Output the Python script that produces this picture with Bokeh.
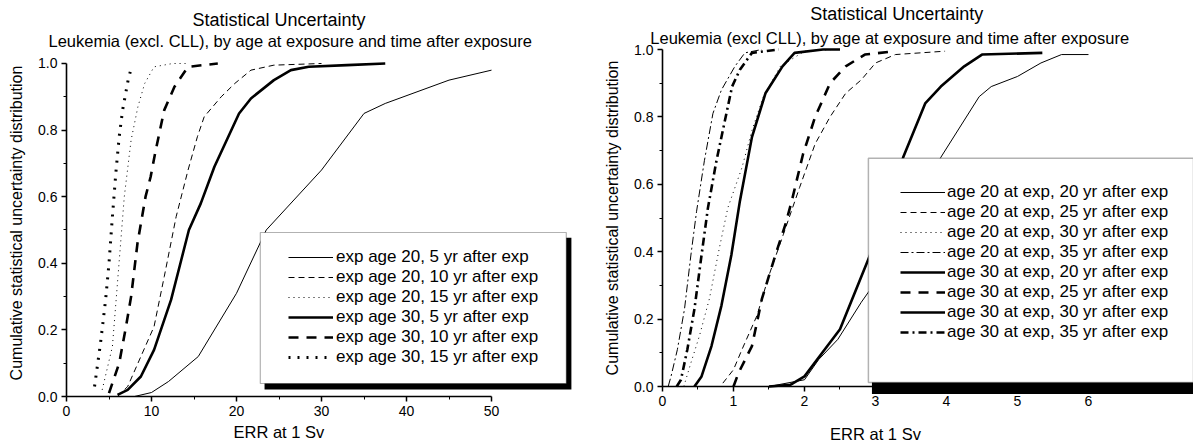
from bokeh.plotting import figure
from bokeh.models import (Legend, LegendItem, BoxAnnotation, Title, Label, FixedTicker,
                          NumeralTickFormatter, Range1d)
from bokeh.layouts import row, column
from bokeh.embed import file_html
from bokeh.resources import INLINE

FONT = "Liberation Sans"

# ---------------- data: left panel (ERR at 1 Sv, cumulative distribution) ----------------
left_labels = ["exp age 20, 5 yr after exp", "exp age 20, 10 yr after exp",
               "exp age 20, 15 yr after exp", "exp age 30, 5 yr after exp",
               "exp age 30, 10 yr after exp", "exp age 30, 15 yr after exp"]
l1_x = [8, 10, 12, 15.5, 20, 23.5, 30, 35, 37.5, 45, 50]
l1_y = [0.0, 0.012, 0.045, 0.12, 0.31, 0.5, 0.68, 0.85, 0.88, 0.95, 0.98]
l2_x = [6.0, 7.2, 8.75, 10.3, 11.5, 12.9, 14.3, 15.4, 16.2, 18.2, 19.8, 21.7, 24.4, 30]
l2_y = [0.0, 0.03, 0.12, 0.21, 0.36, 0.54, 0.68, 0.78, 0.84, 0.9, 0.94, 0.98, 0.995, 1.0]
l3_x = [4.2, 5.4, 5.9, 6.8, 7.6, 8.4, 9.2, 10.3, 12.5, 14]
l3_y = [0.02, 0.15, 0.31, 0.6, 0.77, 0.87, 0.94, 0.99, 1.0, 1.0]
l4_x = [6.0, 7.2, 8.75, 10.3, 12.3, 13.5, 14.4, 15.8, 17.4, 20.3, 21.7, 24.4, 26.4, 28.5, 33, 37.5]
l4_y = [0.005, 0.02, 0.06, 0.14, 0.29, 0.41, 0.5, 0.58, 0.69, 0.85, 0.895, 0.95, 0.98, 0.99, 0.995, 1.0]
l5_x = [5.0, 6.2, 7.0, 7.6, 8.35, 9.3, 9.9, 10.5, 11.5, 12.7, 14.3, 17.8]
l5_y = [0.01, 0.1, 0.21, 0.3, 0.46, 0.6, 0.66, 0.74, 0.86, 0.93, 0.99, 1.0]
l6_x = [3.3, 4.0, 4.6, 5.0, 5.4, 5.8, 6.2, 6.6, 7.25, 7.65]
l6_y = [0.03, 0.16, 0.29, 0.4, 0.54, 0.67, 0.78, 0.86, 0.95, 0.99]

# ---------------- data: right panel ----------------
right_labels = ["age 20 at exp, 20 yr after exp", "age 20 at exp, 25 yr after exp",
                "age 20 at exp, 30 yr after exp", "age 20 at exp, 35 yr after exp",
                "age 30 at exp, 20 yr after exp", "age 30 at exp, 25 yr after exp",
                "age 30 at exp, 30 yr after exp", "age 30 at exp, 35 yr after exp"]
r1_x = [1.5, 2.0, 2.2, 2.47, 2.8, 3.0, 3.92, 4.46, 4.63, 5.0, 5.33, 5.62, 6.0]
r1_y = [0.0, 0.02, 0.08, 0.14, 0.25, 0.31, 0.68, 0.86, 0.89, 0.92, 0.96, 0.985, 0.985]
r2_x = [0.85, 1.0, 1.12, 1.33, 1.5, 1.7, 1.93, 2.15, 2.36, 2.58, 2.8, 3.0, 3.28, 3.98]
r2_y = [0.01, 0.05, 0.11, 0.21, 0.33, 0.45, 0.59, 0.72, 0.8, 0.87, 0.91, 0.96, 0.985, 0.995]
r3_x = [0.3, 0.4, 0.52, 0.66, 0.8, 0.92, 1.12, 1.26, 1.42, 1.66, 2.0, 2.4]
r3_y = [0.0, 0.07, 0.15, 0.26, 0.41, 0.53, 0.65, 0.76, 0.86, 0.95, 0.995, 1.0]
r4_x = [0.08, 0.12, 0.21, 0.31, 0.4, 0.48, 0.59, 0.71, 0.83, 1.02, 1.16, 1.4]
r4_y = [0.0, 0.03, 0.11, 0.23, 0.39, 0.52, 0.67, 0.81, 0.88, 0.95, 0.99, 1.0]
r5_x = [1.5, 1.8, 2.0, 2.25, 2.5, 3.0, 3.39, 3.7, 3.92, 4.25, 4.5, 5.35]
r5_y = [0.0, 0.005, 0.03, 0.1, 0.17, 0.43, 0.68, 0.84, 0.89, 0.95, 0.985, 0.99]
r6_x = [1.0, 1.07, 1.26, 1.4, 1.59, 1.73, 1.82, 1.98, 2.15, 2.36, 2.58, 2.85, 3.28]
r6_y = [0.0, 0.04, 0.12, 0.26, 0.39, 0.48, 0.55, 0.69, 0.8, 0.9, 0.95, 0.985, 0.995]
r7_x = [0.45, 0.55, 0.69, 0.83, 0.97, 1.09, 1.26, 1.45, 1.69, 1.86, 2.26, 2.5]
r7_y = [0.0, 0.03, 0.12, 0.24, 0.39, 0.55, 0.74, 0.87, 0.95, 0.99, 1.0, 1.0]
r8_x = [0.2, 0.26, 0.35, 0.45, 0.55, 0.64, 0.76, 0.86, 0.98, 1.09, 1.26, 1.64]
r8_y = [0.0, 0.02, 0.11, 0.23, 0.39, 0.53, 0.67, 0.77, 0.89, 0.94, 0.99, 1.0]

y_ticks = [0, 0.2, 0.4, 0.6, 0.8, 1.0]
y_minor = [0.1, 0.3, 0.5, 0.7, 0.9]
left_x_ticks = [0, 10, 20, 30, 40, 50]
left_x_minor = [5, 15, 25, 35, 45]
right_x_ticks = [0, 1, 2, 3, 4, 5, 6]
right_x_minor = [0.5, 1.5, 2.5, 3.5, 4.5, 5.5]

title_text = "Statistical Uncertainty"
left_sub = "Leukemia (excl. CLL), by age at exposure and time after exposure"
right_sub = "Leukemia (excl CLL), by age at exposure and time after exposure"
x_title = "ERR at 1 Sv"
y_title = "Cumulative statistical uncertainty distribution"

# styles: (line_width, line_dash)
left_styles = [(1, "solid"), (1, "6 4"), (1, "1 4"), (2.6, "solid"), (2.6, "10 8"), (3, "2 7")]
right_styles = [(1, "solid"), (1, "6 4"), (1, "1 4"), (1, "8 3 2 3"),
                (2.6, "solid"), (2.6, "10 8"), (2.6, "solid"), (2.6, "8 4 2 4")]


def style_axes(p, xt, xm, xb):
    p.outline_line_color = None
    p.grid.visible = False
    p.background_fill_color = "white"
    p.border_fill_color = "white"
    p.xaxis.ticker = FixedTicker(ticks=xt, minor_ticks=xm)
    p.yaxis.ticker = FixedTicker(ticks=y_ticks, minor_ticks=y_minor)
    p.xaxis.bounds = xb
    p.yaxis.bounds = (0, 1)
    p.xaxis.formatter = NumeralTickFormatter(format="0")
    p.yaxis.formatter = NumeralTickFormatter(format="0.0")
    for ax in (p.xaxis, p.yaxis):
        ax.axis_line_width = 1.6
        ax.axis_line_color = "black"
        ax.major_tick_line_width = 1.5
        ax.major_tick_in = 0
        ax.major_tick_out = 5
        ax.minor_tick_in = 0
        ax.minor_tick_out = 3
        ax.minor_tick_line_width = 1
        ax.major_label_text_font = FONT
        ax.major_label_text_font_size = "14px"
        ax.major_label_text_color = "black"
        ax.major_label_standoff = 4
    p.yaxis.axis_label = y_title
    p.yaxis.axis_label_text_font = FONT
    p.yaxis.axis_label_text_font_style = "normal"
    p.yaxis.axis_label_text_color = "black"
    p.yaxis.axis_label_text_font_size = "16px"
    p.yaxis.axis_label_standoff = 10


# ---------------- left figure ----------------
pL = figure(width=597, height=444, x_range=Range1d(0, 60), y_range=Range1d(0, 1.042),
            output_backend="svg", toolbar_location=None,
            min_border_left=66, min_border_right=21, min_border_top=49, min_border_bottom=48)
style_axes(pL, left_x_ticks, left_x_minor, (0, 50))
pL.add_layout(Title(text=left_sub, align="left", offset=-18, standoff=0,
                    text_font=FONT, text_font_size="16.5px", text_font_style="normal",
                    text_color="black"), "above")
pL.add_layout(Title(text=title_text, align="left", offset=126, standoff=0,
                    text_font=FONT, text_font_size="18px", text_font_style="normal",
                    text_color="black"), "above")
pL.add_layout(Title(text=x_title, align="left", offset=167, standoff=4,
                    text_font=FONT, text_font_size="16.5px", text_font_style="normal",
                    text_color="black"), "below")

left_series = [(l1_x, l1_y), (l2_x, l2_y), (l3_x, l3_y), (l4_x, l4_y), (l5_x, l5_y), (l6_x, l6_y)]
left_rs = []
for (xs, ys), (lw, dash) in zip(left_series, left_styles):
    left_rs.append(pL.line(xs, ys, line_color="black", line_width=lw, line_dash=dash))

pL.add_layout(BoxAnnotation(left=23.3, right=59.4, top=0.477, bottom=0.021,
                            fill_color="black", fill_alpha=1, line_color=None))
pL.add_layout(BoxAnnotation(left=22.8, right=58.8, top=0.4925, bottom=0.039,
                            fill_color="white", fill_alpha=1, line_color="black", line_width=1.2))
legL = Legend(items=[LegendItem(label=t, renderers=[r]) for t, r in zip(left_labels, left_rs)],
              location=(222, 29), border_line_color=None, background_fill_alpha=0,
              padding=0, spacing=0, margin=0, glyph_width=45, glyph_height=20,
              label_height=20, label_standoff=3, label_text_font=FONT,
              label_text_font_size="17px", label_text_color="black")
pL.add_layout(legL)

# ---------------- right figure (frame fills the whole canvas, axes fixed at 0) ----------------
pR = figure(width=596, height=444, x_range=Range1d(-0.9155, 7.479), y_range=Range1d(-0.1721, 1.1454),
            output_backend="svg", toolbar_location=None,
            min_border_left=0, min_border_right=0, min_border_top=0, min_border_bottom=0)
style_axes(pR, right_x_ticks, right_x_minor, (0, 6))
pR.xaxis.fixed_location = 0
pR.yaxis.fixed_location = 0

right_series = [(r1_x, r1_y), (r2_x, r2_y), (r3_x, r3_y), (r4_x, r4_y),
                (r5_x, r5_y), (r6_x, r6_y), (r7_x, r7_y), (r8_x, r8_y)]
right_rs = []
for (xs, ys), (lw, dash) in zip(right_series, right_styles):
    right_rs.append(pR.line(xs, ys, line_color="black", line_width=lw, line_dash=dash))

pR.add_layout(BoxAnnotation(left=2.95, right=None, top=0.66, bottom=-0.022,
                            fill_color="black", fill_alpha=1, line_color=None))
pR.add_layout(BoxAnnotation(left=2.9, right=None, top=0.677, bottom=0.012,
                            fill_color="white", fill_alpha=1, line_color="black", line_width=1.5))
legR = Legend(items=[LegendItem(label=t, renderers=[r]) for t, r in zip(right_labels, right_rs)],
              location=(303, 102), border_line_color=None, background_fill_alpha=0,
              padding=0, spacing=0, margin=0, glyph_width=45, glyph_height=20,
              label_height=20, label_standoff=2, label_text_font=FONT,
              label_text_font_size="17px", label_text_color="black")
pR.add_layout(legR)

pR.add_layout(Label(x=3.3, y=1.104, text=title_text, text_align="center", text_baseline="middle",
                    text_font=FONT, text_font_size="18px", text_color="black"))
pR.add_layout(Label(x=3.2, y=1.0356, text=right_sub, text_align="center", text_baseline="middle",
                    text_font=FONT, text_font_size="16.5px", text_color="black"))
pR.add_layout(Label(x=3.0, y=-0.14, text=x_title, text_align="center", text_baseline="middle",
                    text_font=FONT, text_font_size="16.5px", text_color="black"))

layout = row(column(pL), column(pR), spacing=0)
open("out.html", "w").write(file_html(layout, INLINE))
